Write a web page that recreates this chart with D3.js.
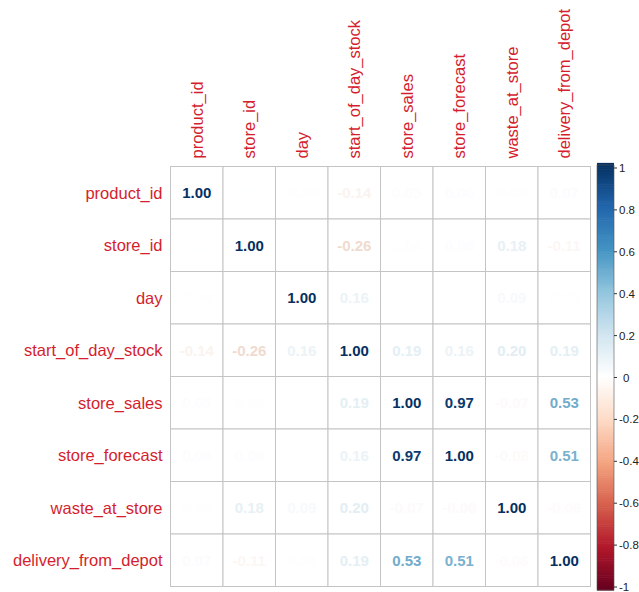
<!DOCTYPE html>
<html>
<head>
<meta charset="utf-8">
<script src="https://cdn.jsdelivr.net/npm/d3@7/dist/d3.min.js"></script>
<style>
  html, body { margin: 0; padding: 0; background: #ffffff; }
  svg { display: block; }
  text { font-family: "Liberation Sans", Arial, sans-serif; }
</style>
</head>
<body>
<svg id="chart" width="639" height="592"></svg>
<script>
// Variables of the correlation matrix
const variables = ["product_id", "store_id", "day", "start_of_day_stock",
  "store_sales", "store_forecast", "waste_at_store", "delivery_from_depot"];

// Pearson correlations, one row per variable
const corrProduct  = [ 1.00,  0.02, -0.04, -0.14,  0.05,  0.06,  0.03,  0.07];
const corrStore    = [ 0.02,  1.00,  0.00, -0.26,  0.04,  0.06,  0.18, -0.11];
const corrDay      = [-0.04,  0.00,  1.00,  0.16,  0.00,  0.01,  0.09,  0.03];
const corrStock    = [-0.14, -0.26,  0.16,  1.00,  0.19,  0.16,  0.20,  0.19];
const corrSales    = [ 0.05,  0.04,  0.00,  0.19,  1.00,  0.97, -0.07,  0.53];
const corrForecast = [ 0.06,  0.06,  0.01,  0.16,  0.97,  1.00, -0.08,  0.51];
const corrWaste    = [ 0.03,  0.18,  0.09,  0.20, -0.07, -0.08,  1.00, -0.06];
const corrDelivery = [ 0.07, -0.11,  0.03,  0.19,  0.53,  0.51, -0.06,  1.00];
const matrix = [corrProduct, corrStore, corrDay, corrStock,
  corrSales, corrForecast, corrWaste, corrDelivery];

// Colour legend ticks
const legendTicks = [1, 0.8, 0.6, 0.4, 0.2, 0, -0.2, -0.4, -0.6, -0.8, -1];

// Diverging red-blue palette
const paletteStops = ["#67001F", "#B2182B", "#D6604D", "#F4A582", "#FDDBC7",
  "#FFFFFF", "#D1E5F0", "#92C5DE", "#4393C3", "#2166AC", "#053061"];
const color = d3.scaleLinear()
  .domain(d3.range(paletteStops.length).map(i => -1 + i * 0.2))
  .range(paletteStops)
  .interpolate(d3.interpolateRgb)
  .clamp(true);

// Weak coefficients fade toward the white cell background
const textColor = v => {
  const a = Math.abs(v);
  const base = d3.interpolateRgb(color(v), "#6f9aa6")(0.35 * a * (1 - a) * 4 * 0.5);
  return d3.interpolateRgb(base, "#ffffff")(0.97 * Math.pow(1 - a, 3));
};

const svg = d3.select("#chart");
const labelColor = "#d41e2e";

const gridLeft = 170.5, gridTop = 166.5, cell = 52.5;
const x = d3.scaleBand().domain(variables).range([gridLeft, gridLeft + cell * variables.length]);
const y = d3.scaleBand().domain(variables).range([gridTop, gridTop + cell * variables.length]);

// Flatten to cells
const cells = [];
matrix.forEach((row, i) => row.forEach((v, j) => cells.push({ r: variables[i], c: variables[j], v })));

// Cell grid
svg.append("g").selectAll("rect")
  .data(cells).join("rect")
  .attr("x", d => x(d.c)).attr("y", d => y(d.r))
  .attr("width", x.bandwidth()).attr("height", y.bandwidth())
  .attr("fill", "#ffffff")
  .attr("stroke", "#c4c4c4").attr("stroke-width", 1);

// Coefficients, coloured by value
svg.append("g").selectAll("text")
  .data(cells).join("text")
  .attr("x", d => x(d.c) + x.bandwidth() / 2)
  .attr("y", d => y(d.r) + y.bandwidth() / 2)
  .attr("text-anchor", "middle").attr("dominant-baseline", "central")
  .attr("font-size", 15).attr("font-weight", "bold")
  .attr("fill", d => textColor(d.v))
  .text(d => d3.format(".2f")(d.v).replace("\u2212", "-"));

// Row labels
svg.append("g").selectAll("text")
  .data(variables).join("text")
  .attr("x", gridLeft - 8)
  .attr("y", d => y(d) + y.bandwidth() / 2)
  .attr("text-anchor", "end").attr("dominant-baseline", "central")
  .attr("font-size", 16.5).attr("fill", labelColor)
  .text(d => d);

// Column labels, rotated
svg.append("g").selectAll("text")
  .data(variables).join("text")
  .attr("transform", d => `translate(${x(d) + x.bandwidth() / 2},${gridTop - 8}) rotate(-90)`)
  .attr("text-anchor", "start").attr("dominant-baseline", "central")
  .attr("font-size", 16.5).attr("fill", labelColor)
  .text(d => d);

// Colour legend
const barX = 597, barW = 17, barTop = 165, barBottom = 590;
const legendY = d3.scaleLinear().domain([-1, 1]).range([barBottom - 3, barTop + 3]);
const steps = d3.range(-1, 1.0001, 0.01);
const stepH = (barBottom - barTop) / (steps.length - 1);
svg.append("g").selectAll("rect")
  .data(steps).join("rect")
  .attr("x", barX).attr("width", barW)
  .attr("y", (d, i) => barBottom - (i + 1) * stepH)
  .attr("height", stepH + 0.6)
  .attr("fill", d => color(d));
svg.append("rect")
  .attr("x", barX).attr("y", barTop).attr("width", barW).attr("height", barBottom - barTop)
  .attr("fill", "none").attr("stroke", "#555").attr("stroke-width", 0.6);

const legendG = svg.append("g");
legendG.selectAll("line")
  .data(legendTicks).join("line")
  .attr("x1", barX + barW).attr("x2", barX + barW + 3)
  .attr("y1", d => legendY(d)).attr("y2", d => legendY(d))
  .attr("stroke", "#333").attr("stroke-width", 1);
legendG.selectAll("text")
  .data(legendTicks).join("text")
  .attr("x", d => (d === 0 ? barX + barW + 9 : barX + barW + 5))
  .attr("y", d => legendY(d))
  .attr("dominant-baseline", "central")
  .attr("font-size", 11.5).attr("fill", "#222")
  .text(d => d3.format("")(d).replace("\u2212", "-"));
</script>
</body>
</html>
